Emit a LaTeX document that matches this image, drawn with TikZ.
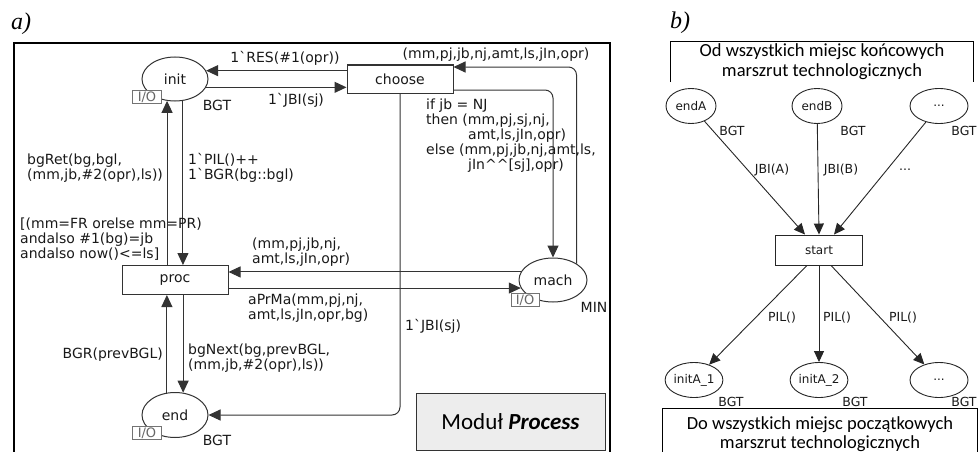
\documentclass[tikz,border=0pt]{standalone}
\usepackage{fontspec}
\usetikzlibrary{shapes.geometric, arrows.meta}

\newfontfamily\petri{DejaVu Sans}
\newfontfamily\calib{Carlito}
\newfontfamily\timesf{Liberation Serif}
\newcommand\netfont{\petri\fontsize{14pt}{15pt}\selectfont}
\newcommand\smallnet{\petri\fontsize{12pt}{13pt}\selectfont}
\newcommand\labnet{\petri\fontsize{12.5pt}{13pt}\selectfont}
\newcommand\bq{\textasciigrave}
\newcommand\caret{\textasciicircum}

\begin{document}
\begin{tikzpicture}[
    x=1pt, y=-1pt,
    place/.style={
        draw=black!80, line width=1pt,
        ellipse,
        minimum width=66pt, minimum height=44pt,
        inner sep=0pt,
        font=\netfont, text=black!90
    },
    trans/.style={
        draw=black!80, line width=1pt,
        minimum width=106pt, minimum height=28pt,
        inner sep=0pt,
        font=\netfont, text=black!90
    },
    iobox/.style={
        draw=black!55, fill=white, line width=0.8pt,
        minimum width=29pt, minimum height=13pt,
        inner sep=0pt,
        font=\petri\fontsize{13pt}{13pt}\selectfont, text=black!60
    },
    lbl/.style={font=\netfont, text=black!90, align=left, inner sep=0pt},
    arc/.style={
        -{Triangle[length=12pt, width=11pt]},
        draw=black!80, line width=1pt
    },
    bplace/.style={
        draw=black!85, line width=0.9pt,
        ellipse,
        minimum width=50pt, minimum height=35pt,
        inner sep=0pt,
        font=\smallnet, text=black!90
    },
    btrans/.style={
        draw=black!85, line width=0.9pt,
        minimum width=87pt, minimum height=30pt,
        inner sep=0pt,
        font=\smallnet, text=black!90
    },
    blbl/.style={font=\labnet, text=black!90, inner sep=0pt},
    barc/.style={
        -{Triangle[length=11pt, width=10pt]},
        draw=black!85, line width=0.9pt
    },
    note/.style={
        minimum width=302pt, minimum height=40pt,
        inner sep=0pt, align=center,
        font=\calib\fontsize{18.5pt}{20pt}\selectfont
    },
    tag/.style={font=\timesf\itshape\fontsize{24pt}{24pt}\selectfont, inner sep=0pt}
]
\useasboundingbox (0,0) rectangle (979,452);

% a) module Process
\node[tag] (taga) at (21,24) {a)};
\draw[line width=1.3pt] (14,460) -- (14,43) -- (610,43) -- (610,460);

\node[place] (init) at (175,79) {init};
\node[iobox] (initio) at (147,97) {I/O};
\node[lbl] (initcol) at (217,105) {BGT};

\node[trans] (choose) at (400,79) {choose};
\node[trans, minimum height=29pt] (proc) at (175,280) {proc};

\node[place, minimum width=68pt] (mach) at (553,280) {mach};
\node[iobox, minimum width=28pt] (machio) at (525,300) {I/O};
\node[lbl] (machcol) at (594,307) {MIN};

\node[place, minimum height=45pt] (end) at (175,415) {end};
\node[iobox] (endio) at (147,433) {I/O};
\node[lbl] (endcol) at (217,440) {BGT};

\node[draw=black!80, fill=black!7, line width=1pt, minimum width=189pt, minimum height=57pt,
      font=\calib\fontsize{23pt}{23pt}\selectfont] (modul) at (510.5,421.5) {Moduł \textbf{\textit{Process}}};

% init <-> choose
\draw[arc] (choose.west |- init.15) -- (init.15);
\draw[arc] (init.-15) -- (choose.west |- init.-15);
\node[lbl] (resl) at (285,58) {1\bq RES(\#1(opr))};
\node[lbl] (jbil) at (296,100) {1\bq JBI(sj)};

% init <-> proc
\draw[arc] (init.-110 |- proc.north) -- (init.-110);
\draw[arc] (init.-70) -- (init.-70 |- proc.north);
\node[lbl, anchor=west] (retl) at (27,168.5) {bgRet(bg,bgl,\\(mm,jb,\#2(opr),ls))};
\node[lbl, anchor=west] (pill) at (188,168) {1\bq PIL()++\\1\bq BGR(bg::bgl)};
\node[lbl, anchor=west] (guard) at (20,239) {[(mm=FR orelse mm=PR)\\andalso \#1(bg)=jb\\andalso now()<=ls]};

% proc <-> end
\draw[arc] (end.110) -- (end.110 |- proc.south);
\draw[arc] (proc.south -| end.70) -- (end.70);
\node[lbl, anchor=east] (bgrl) at (163,355) {BGR(prevBGL)};
\node[lbl, anchor=west] (nextl) at (188,358.5) {bgNext(bg,prevBGL,\\(mm,jb,\#2(opr),ls))};

% proc <-> mach
\draw[arc] (mach.166) -- (mach.166 -| proc.east);
\draw[arc] (mach.194 -| proc.east) -- (mach.194);
\node[lbl, anchor=west] (backl) at (252,252.5) {(mm,pj,jb,nj,\\amt,ls,jIn,opr)};
\node[lbl, anchor=west] (prmal) at (248,308.5) {aPrMa(mm,pj,nj,\\amt,ls,jIn,opr,bg)};

% choose -> end, choose <-> mach
\draw[arc, rounded corners=8pt] (choose.south) |- (end.east);
\node[lbl, anchor=west] (jbiend) at (405,326) {1\bq JBI(sj)};
\draw[arc, rounded corners=8pt] ([yshift=-11pt]choose.east) -| (mach.north);
\node[lbl, anchor=west] (ifl) at (426,136) {if jb = NJ\\then (mm,pj,sj,nj,\\\hspace*{42pt}amt,ls,jIn,opr)\\else (mm,pj,jb,nj,amt,ls,\\\hspace*{42pt}jIn\caret\caret[sj],opr)};
\draw[arc, rounded corners=8pt] (mach.35) |- ([yshift=12pt]choose.east);
\node[lbl] (topl) at (496,55) {(mm,pj,jb,nj,amt,ls,jIn,opr)};

% b) start transition
\node[tag] (tagb) at (680,23) {b)};
\node[note] (fromall) at (822,62) {Od wszystkich miejsc końcowych\\marszrut technologicznych};
\draw[line width=1pt] (fromall.south west) -- (fromall.north west) -- (fromall.north east) -- (fromall.south east);

\node[bplace] (endA) at (691,106) {endA};
\node[bplace] (endB) at (817,106) {endB};
\node[bplace, minimum width=58pt] (endX) at (939,106) {...};
\node[blbl] at (732,131) {BGT};
\node[blbl] at (853,131) {BGT};
\node[blbl] at (964,131) {BGT};

\node[btrans] (start) at (819,250) {start};

\node[bplace, minimum width=56pt] (initA1) at (694,380) {initA\_1};
\node[bplace, minimum width=57pt] (initA2) at (819,380) {initA\_2};
\node[bplace, minimum width=58pt] (initX) at (939,380) {...};
\node[blbl] at (731,402) {BGT};
\node[blbl] at (855,402) {BGT};
\node[blbl] at (964,402) {BGT};

\draw[barc] (endA) -- ([xshift=-14pt]start.north);
\draw[barc] (endB) -- (start.north);
\draw[barc] (endX) -- ([xshift=15pt]start.north);
\node[blbl] (jbia) at (772,170) {JBI(A)};
\node[blbl] (jbib) at (841,170) {JBI(B)};
\node[blbl] (jbix) at (905,170) {...};

\draw[barc] ([xshift=-12pt]start.south) -- (initA1);
\draw[barc] (start) -- (initA2);
\draw[barc] ([xshift=12pt]start.south) -- (initX);
\node[blbl] (pila) at (782,318) {PIL()};
\node[blbl] (pilb) at (837,318) {PIL()};
\node[blbl] (pilx) at (903,318) {PIL()};

\node[note, minimum width=314pt, minimum height=50pt, font=\calib\fontsize{18.5pt}{19pt}\selectfont] (toall) at (820,434) {Do wszystkich miejsc początkowych\\marszrut technologicznych};
\draw[line width=1pt] (toall.south west) -- (toall.north west) -- (toall.north east) -- (toall.south east);

\end{tikzpicture}
\end{document}
